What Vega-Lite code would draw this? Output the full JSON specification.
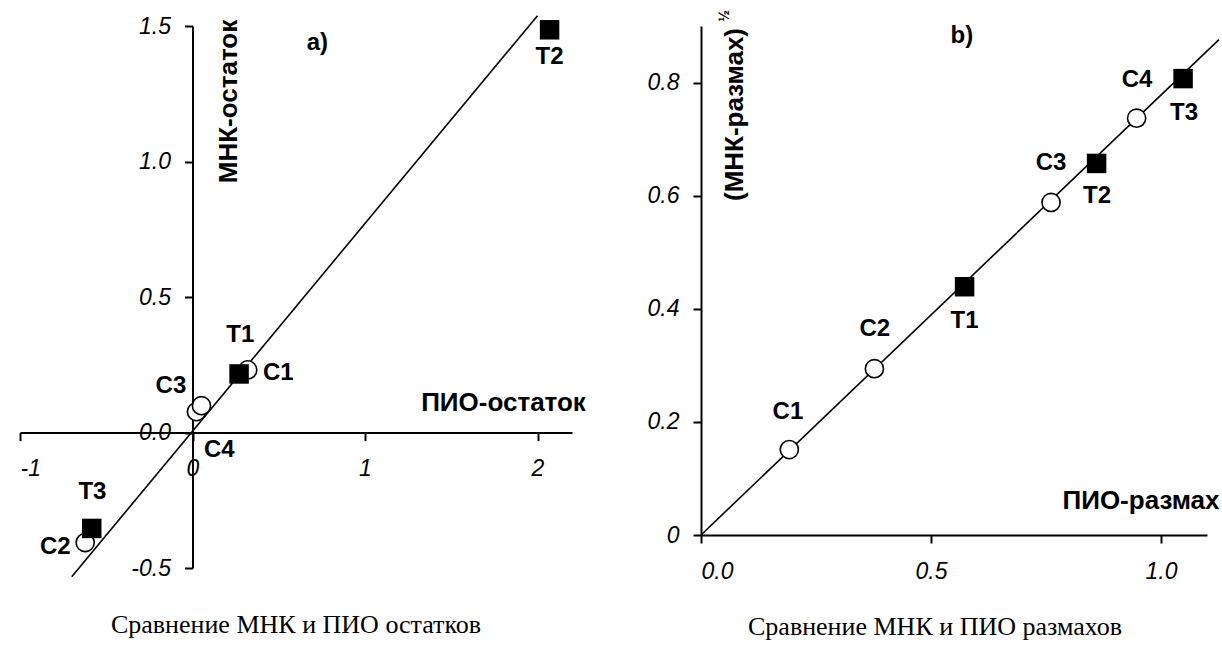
{
  "$schema": "https://vega.github.io/schema/vega-lite/v6.json",
  "background": "white",
  "padding": {"left": 19, "top": 9, "right": 0, "bottom": 0},
  "bounds": "flush",
  "spacing": 129,
  "datasets": {
    "lineA": [{"x": -0.70, "y": -0.532}, {"x": 2.0, "y": 1.538}],
    "pointsA": [
      {"name": "C3", "kind": "circle", "x": 0.023, "y": 0.077},
      {"name": "C4", "kind": "circle", "x": 0.052, "y": 0.099},
      {"name": "C1", "kind": "circle", "x": 0.32, "y": 0.231},
      {"name": "C2", "kind": "circle", "x": -0.622, "y": -0.406},
      {"name": "T1", "kind": "square", "x": 0.27, "y": 0.216},
      {"name": "T2", "kind": "square", "x": 2.07, "y": 1.486},
      {"name": "T3", "kind": "square", "x": -0.584, "y": -0.354}
    ],
    "labelsA": [
      {"text": "T1", "x": 0.277, "y": 0.358},
      {"text": "C1", "x": 0.497, "y": 0.219},
      {"text": "C3", "x": -0.125, "y": 0.173},
      {"text": "C4", "x": 0.155, "y": -0.066},
      {"text": "T2", "x": 2.07, "y": 1.387},
      {"text": "T3", "x": -0.58, "y": -0.221},
      {"text": "C2", "x": -0.795, "y": -0.424},
      {"text": "a)", "x": 0.724, "y": 1.439}
    ],
    "lineB": [{"x": 0, "y": 0}, {"x": 1.126, "y": 0.876}],
    "pointsB": [
      {"name": "C1", "kind": "circle", "x": 0.192, "y": 0.151},
      {"name": "C2", "kind": "circle", "x": 0.377, "y": 0.294},
      {"name": "C3", "kind": "circle", "x": 0.761, "y": 0.588},
      {"name": "C4", "kind": "circle", "x": 0.947, "y": 0.737},
      {"name": "T1", "kind": "square", "x": 0.573, "y": 0.439},
      {"name": "T2", "kind": "square", "x": 0.86, "y": 0.657},
      {"name": "T3", "kind": "square", "x": 1.048, "y": 0.807}
    ],
    "labelsB": [
      {"text": "C1", "x": 0.189, "y": 0.218},
      {"text": "C2", "x": 0.378, "y": 0.364},
      {"text": "T1", "x": 0.573, "y": 0.379},
      {"text": "C3", "x": 0.761, "y": 0.657},
      {"text": "T2", "x": 0.861, "y": 0.599},
      {"text": "C4", "x": 0.948, "y": 0.804},
      {"text": "T3", "x": 1.05, "y": 0.746},
      {"text": "b)", "x": 0.567, "y": 0.882}
    ],
    "supB": [{"text": "½", "x": 0.053, "y": 0.918}]
  },
  "config": {
    "view": {"stroke": null},
    "axis": {
      "grid": false,
      "domainColor": "black",
      "domainWidth": 2,
      "tickColor": "black",
      "tickWidth": 2,
      "tickSize": 8,
      "labelFont": "Liberation Sans",
      "labelFontStyle": "italic",
      "labelFontSize": 23,
      "labelColor": "black",
      "titleFont": "Liberation Sans",
      "titleFontSize": 26,
      "titleFontWeight": "bold",
      "titleColor": "black"
    },
    "text": {"font": "Liberation Sans", "fontWeight": "bold", "fontSize": 24, "color": "black", "align": "center", "baseline": "middle"},
    "title": {"font": "Liberation Serif", "fontSize": 26, "fontWeight": "normal", "color": "black", "orient": "bottom", "anchor": "middle", "frame": "group"}
  },
  "hconcat": [
    {
      "width": 552,
      "height": 542,
      "title": {"text": "Сравнение МНК и ПИО остатков", "orient": "bottom", "offset": 32},
      "encoding": {
        "x": {
          "field": "x", "type": "quantitative",
          "scale": {"domain": [-1, 2.2], "nice": false, "zero": false},
          "axis": {
            "title": "ПИО-остаток", "values": [-1, 0, 1, 2],
            "labelExpr": "'' + datum.value",
            "offset": -135.4, "labelPadding": 17,
            "titleX": 483, "titleY": -30, "titleAngle": 0,
            "titleAlign": "center", "titleBaseline": "middle"
          }
        },
        "y": {
          "field": "y", "type": "quantitative",
          "scale": {"domain": [-0.5, 1.5], "nice": false, "zero": false},
          "axis": {
            "title": "МНК-остаток", "values": [-0.5, 0, 0.5, 1, 1.5],
            "labelExpr": "replace(format(datum.value, '.1f'), '−', '-')",
            "offset": -172.5, "labelPadding": 14,
            "titleX": 36, "titleY": 75, "titleAngle": 270,
            "titleAlign": "center", "titleBaseline": "middle"
          }
        }
      },
      "layer": [
        {"data": {"name": "lineA"}, "mark": {"type": "line", "color": "black", "strokeWidth": 1.6}},
        {"data": {"name": "pointsA"}, "transform": [{"filter": "datum.kind == 'circle'"}],
         "mark": {"type": "point", "shape": "circle", "filled": true, "fill": "white", "stroke": "black", "strokeWidth": 1.6, "size": 330, "opacity": 1}},
        {"data": {"name": "pointsA"}, "transform": [{"filter": "datum.kind == 'square'"}],
         "mark": {"type": "point", "shape": "square", "filled": true, "fill": "black", "stroke": null, "size": 380, "opacity": 1}},
        {"data": {"name": "labelsA"}, "mark": {"type": "text"}, "encoding": {"text": {"field": "text"}}}
      ]
    },
    {
      "width": 506,
      "height": 509,
      "title": {"text": "Сравнение МНК и ПИО размахов", "orient": "bottom", "offset": 31, "dx": -19},
      "encoding": {
        "x": {
          "field": "x", "type": "quantitative",
          "scale": {"domain": [0, 1.1], "nice": false, "zero": false},
          "axis": {
            "title": "ПИО-размах", "values": [0, 0.5, 1],
            "labelExpr": "format(datum.value, '.1f')",
            "labelPadding": 17,
            "titleX": 439.5, "titleY": -35, "titleAngle": 0,
            "titleAlign": "center", "titleBaseline": "middle"
          }
        },
        "y": {
          "field": "y", "type": "quantitative",
          "scale": {"domain": [0, 0.9], "nice": false, "zero": false},
          "axis": {
            "title": "(МНК-размах)", "values": [0, 0.2, 0.4, 0.6, 0.8],
            "labelExpr": "datum.value == 0 ? '0' : format(datum.value, '.1f')",
            "labelPadding": 14,
            "titleX": 33.5, "titleY": 88, "titleAngle": 270,
            "titleAlign": "center", "titleBaseline": "middle"
          }
        }
      },
      "layer": [
        {"data": {"name": "lineB"}, "mark": {"type": "line", "color": "black", "strokeWidth": 1.6}},
        {"data": {"name": "pointsB"}, "transform": [{"filter": "datum.kind == 'circle'"}],
         "mark": {"type": "point", "shape": "circle", "filled": true, "fill": "white", "stroke": "black", "strokeWidth": 1.6, "size": 330, "opacity": 1}},
        {"data": {"name": "pointsB"}, "transform": [{"filter": "datum.kind == 'square'"}],
         "mark": {"type": "point", "shape": "square", "filled": true, "fill": "black", "stroke": null, "size": 380, "opacity": 1}},
        {"data": {"name": "labelsB"}, "mark": {"type": "text"}, "encoding": {"text": {"field": "text"}}},
        {"data": {"name": "supB"}, "mark": {"type": "text", "fontSize": 14, "angle": 270}, "encoding": {"text": {"field": "text"}}}
      ]
    }
  ]
}
